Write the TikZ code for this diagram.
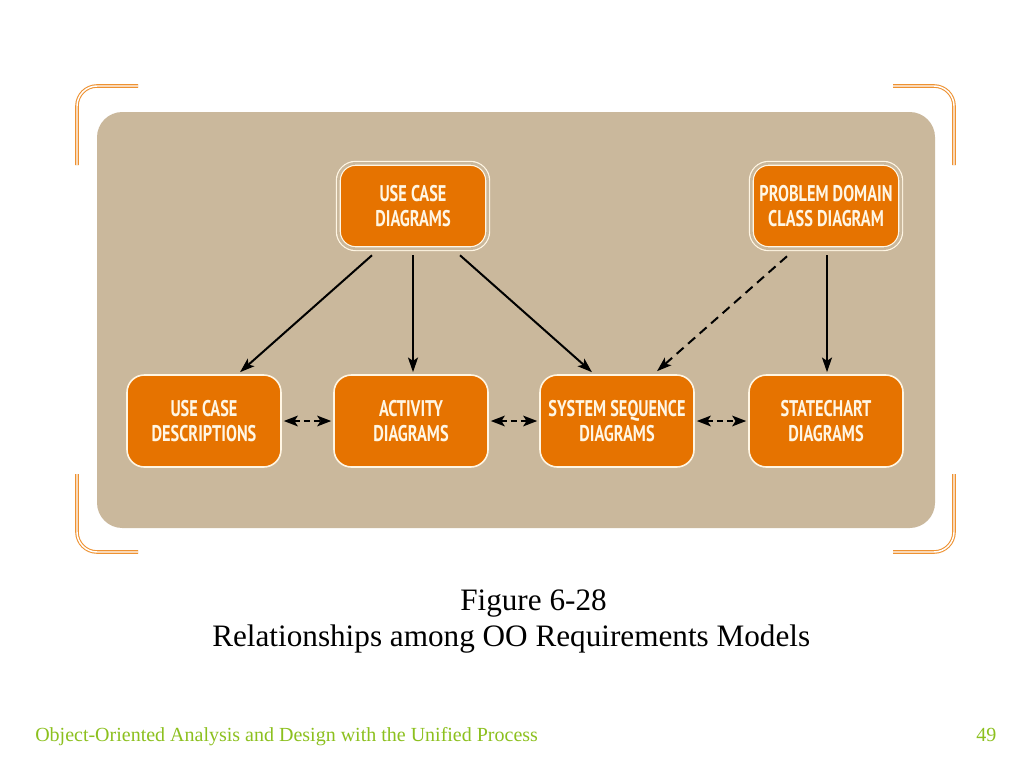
\documentclass[tikz,border=0pt]{standalone}
\usepackage{fontspec}
\setmainfont{Liberation Serif}
\newfontfamily\boxfont[FakeStretch=0.72]{PT Sans}
\usetikzlibrary{arrows.meta,calc}
\definecolor{tanbg}{RGB}{202,184,156}
\definecolor{boxorange}{RGB}{230,115,0}
\definecolor{brk}{RGB}{238,146,50}
\definecolor{cream}{RGB}{255,246,228}
\definecolor{footgreen}{RGB}{140,192,30}
\tikzset{
  box/.style={rectangle, rounded corners=13pt, fill=boxorange, draw=cream, line width=1.2pt,
    minimum width=115.5pt, minimum height=69pt, align=center, text=cream,
    font=\boxfont\bfseries\fontsize{17}{19}\selectfont, inner sep=0pt},
  topbox/.style={box, draw=cream, double=tanbg, double distance=2pt, line width=0.9pt,
    minimum width=112pt, minimum height=64pt},
  bracket/.style={draw=brk, double=white, double distance=1.1pt, line width=0.8pt, rounded corners=15pt},
  solidarrow/.style={line width=1.5pt, -{Stealth[length=11pt,width=7.5pt,inset=2.5pt]}},
  dasharrow/.style={line width=1.5pt, dash pattern=on 7pt off 4.5pt, -{Stealth[length=11pt,width=7.5pt,inset=2.5pt]}},
  biarrow/.style={line width=1.5pt, dash pattern=on 4.5pt off 3pt, {Stealth[length=10.5pt,width=8pt,inset=2.5pt]}-{Stealth[length=10.5pt,width=8pt,inset=2.5pt]}},
  captext/.style={anchor=base west, inner sep=0pt, font=\fontsize{23.4}{28}\selectfont},
  foottext/.style={anchor=base west, inner sep=0pt, text=footgreen, font=\fontsize{15}{18}\selectfont}
}
\begin{document}
\begin{tikzpicture}[x=0.75pt,y=-0.75pt]
\useasboundingbox (0,0) rectangle (1024,768);
\fill[white] (0,0) rectangle (1024,768);
% brackets
\draw[bracket] (77,165) -- (77,86) -- (138,86);
\draw[bracket] (77,474) -- (77,552) -- (138,552);
\draw[bracket] (954,165) -- (954,86) -- (893,86);
\draw[bracket] (954,474) -- (954,552) -- (893,552);
% background panel
\fill[tanbg, rounded corners=19pt] (97,112) rectangle (935,528);
% nodes
\node[topbox] (ucd) at (413,206) {USE CASE\\DIAGRAMS};
\node[topbox] (pdc) at (826,206) {PROBLEM DOMAIN\\CLASS DIAGRAM};
\node[box] (desc) at (204,421) {USE CASE\\DESCRIPTIONS};
\node[box] (act) at (411,421) {ACTIVITY\\DIAGRAMS};
\node[box] (ssd) at (617,421) {SYSTEM SEQUENCE\\DIAGRAMS};
\node[box] (sc) at (826,421) {STATECHART\\DIAGRAMS};
% connectors
\draw[solidarrow] ($(ucd.south)+(-41,6)$) -- ($(desc.north)+(36,-2)$);
\draw[solidarrow] ($(ucd.south)+(0,6)$) -- ($(act.north)+(2,-2)$);
\draw[solidarrow] ($(ucd.south)+(47,6)$) -- ($(ssd.north)+(-25,-2)$);
\draw[dasharrow] ($(pdc.south)+(-39,7)$) -- ($(ssd.north)+(40,-3)$);
\draw[solidarrow] ($(pdc.south)+(1,6)$) -- ($(sc.north)+(1,-2)$);
\draw[biarrow] ($(desc.east)+(2,0)$) -- ($(act.west)+(-2,0)$);
\draw[biarrow] ($(act.east)+(2,0)$) -- ($(ssd.west)+(-2,0)$);
\draw[biarrow] ($(ssd.east)+(2,0)$) -- ($(sc.west)+(-2,0)$);
% caption
\node[captext] (cap1) at (460,610) {Figure 6-28};
\node[captext] (cap2) at (212,646) {Relationships among OO Requirements Models};
% footer
\node[foottext] (foot) at (35,741) {Object-Oriented Analysis and Design with the Unified Process};
\node[foottext] (page) at (976,741) {49};
\end{tikzpicture}
\end{document}
